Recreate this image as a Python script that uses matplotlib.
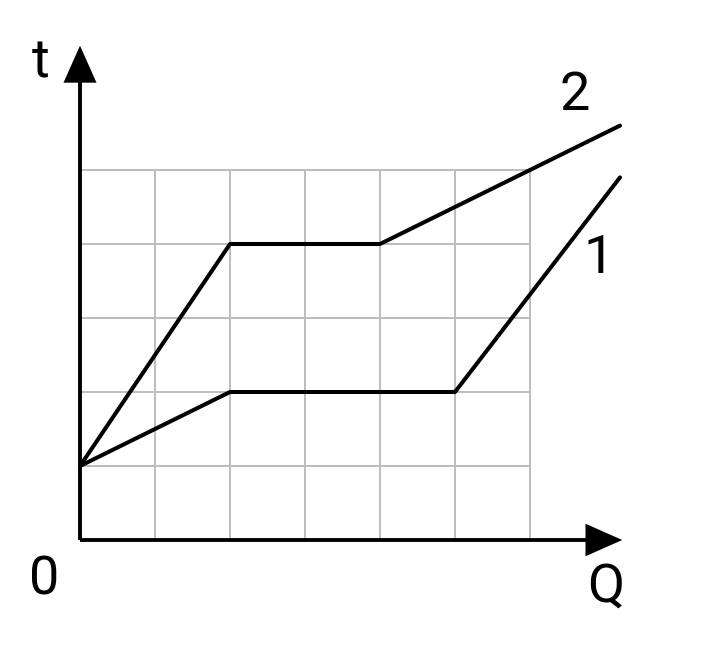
import matplotlib
matplotlib.use("Agg")
import numpy as np
import matplotlib.pyplot as plt

plt.rcParams['font.family'] = ['Roboto', 'DejaVu Sans']

# Grid cells (Q units along x, t units along y)
grid_q = [0, 1, 2, 3, 4, 5, 6]
grid_t = [0, 1, 2, 3, 4, 5]

# Curve 1 and curve 2
q1 = [0, 2, 5, 7.2]
t1 = [1, 2, 2, 4.9]
q2 = [0, 2, 4, 7.2]
t2 = [1, 4, 4, 5.6]

fig = plt.figure(figsize=(7.06, 6.49), dpi=100)
ax = fig.add_axes([0, 0, 1, 1])
ax.set_xlim(-80 / 75, 626 / 75)
ax.set_ylim(-109 / 74, 540 / 74)
ax.axis('off')

# light grid
for q in grid_q[1:]:
    ax.plot([q, q], [grid_t[0], grid_t[-1]], color='#bdbdbd', lw=1.4, zorder=1)
for t in grid_t[1:]:
    ax.plot([grid_q[0], grid_q[-1]], [t, t], color='#bdbdbd', lw=1.4, zorder=1)

# axes with arrow heads
ax.arrow(0, 0, 7.23, 0, width=0.052, head_width=0.44, head_length=0.49,
         length_includes_head=True, color='black', lw=0, zorder=3)
ax.arrow(0, 0, 0, 6.68, width=0.052, head_width=0.44, head_length=0.50,
         length_includes_head=True, color='black', lw=0, zorder=3)

# curves
ax.plot(q1, t1, color='black', lw=2.9, solid_capstyle='round', solid_joinstyle='round', zorder=2)
ax.plot(q2, t2, color='black', lw=2.9, solid_capstyle='round', solid_joinstyle='round', zorder=2)

fs = 39
ax.text(-0.52, 6.45, 't', fontsize=fs, ha='center', va='center')
ax.text(-0.48, -0.54, '0', fontsize=fs, ha='center', va='center')
ax.text(7.01, -0.64, 'Q', fontsize=fs, ha='center', va='center')
ax.text(6.6, 6.0, '2', fontsize=fs, ha='center', va='center')
ax.text(6.91, 3.81, '1', fontsize=fs, ha='center', va='center')

fig.savefig('out.png', dpi=100, facecolor='white')
